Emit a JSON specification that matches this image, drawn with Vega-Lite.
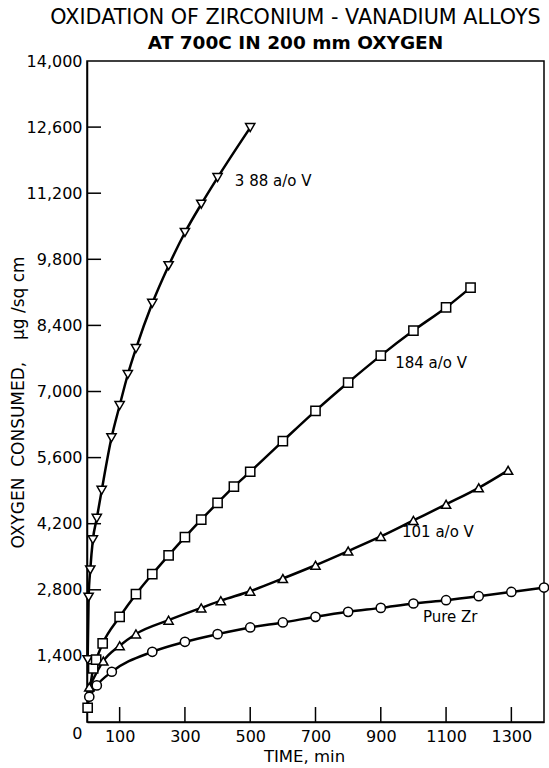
{
  "$schema": "https://vega.github.io/schema/vega-lite/v6.json",
  "autosize": "none",
  "width": 457,
  "height": 661,
  "padding": {"left": 87, "top": 61, "right": 5, "bottom": 46},
  "background": "white",
  "config": {
    "font": "DejaVu Sans",
    "view": {"stroke": "black", "strokeWidth": 1.5},
    "axis": {
      "grid": false,
      "labelColor": "black",
      "titleColor": "black",
      "labelFont": "DejaVu Sans",
      "titleFont": "DejaVu Sans",
      "labelFontSize": 16,
      "titleFontWeight": "normal"
    }
  },
  "title": {
    "text": "OXIDATION OF ZIRCONIUM - VANADIUM  ALLOYS",
    "subtitle": "AT 700C IN 200 mm OXYGEN",
    "font": "DejaVu Sans",
    "fontSize": 20.7,
    "fontWeight": "normal",
    "color": "black",
    "subtitleFont": "DejaVu Sans",
    "subtitleFontSize": 18.5,
    "subtitleFontWeight": "bold",
    "subtitleColor": "black",
    "subtitlePadding": 5,
    "anchor": "middle",
    "dx": -20,
    "offset": 0
  },
  "datasets": {
    "curves": [
      {"series": "388", "time": 2, "oxygen": 1320},
      {"series": "388", "time": 5, "oxygen": 2643},
      {"series": "388", "time": 10, "oxygen": 3220},
      {"series": "388", "time": 18, "oxygen": 3860},
      {"series": "388", "time": 30, "oxygen": 4314},
      {"series": "388", "time": 45, "oxygen": 4906},
      {"series": "388", "time": 75, "oxygen": 6020},
      {"series": "388", "time": 100, "oxygen": 6703},
      {"series": "388", "time": 125, "oxygen": 7360},
      {"series": "388", "time": 150, "oxygen": 7909},
      {"series": "388", "time": 200, "oxygen": 8868},
      {"series": "388", "time": 250, "oxygen": 9664},
      {"series": "388", "time": 300, "oxygen": 10368},
      {"series": "388", "time": 350, "oxygen": 10968},
      {"series": "388", "time": 400, "oxygen": 11531},
      {"series": "388", "time": 500, "oxygen": 12590},
      {"series": "184", "time": 2, "oxygen": 302},
      {"series": "184", "time": 19, "oxygen": 1135},
      {"series": "184", "time": 28, "oxygen": 1320},
      {"series": "184", "time": 48, "oxygen": 1664},
      {"series": "184", "time": 100, "oxygen": 2227},
      {"series": "184", "time": 150, "oxygen": 2707},
      {"series": "184", "time": 200, "oxygen": 3130},
      {"series": "184", "time": 250, "oxygen": 3530},
      {"series": "184", "time": 300, "oxygen": 3915},
      {"series": "184", "time": 350, "oxygen": 4285},
      {"series": "184", "time": 400, "oxygen": 4640},
      {"series": "184", "time": 450, "oxygen": 4985},
      {"series": "184", "time": 500, "oxygen": 5300},
      {"series": "184", "time": 600, "oxygen": 5950},
      {"series": "184", "time": 700, "oxygen": 6590},
      {"series": "184", "time": 800, "oxygen": 7190},
      {"series": "184", "time": 900, "oxygen": 7760},
      {"series": "184", "time": 1000, "oxygen": 8290},
      {"series": "184", "time": 1100, "oxygen": 8780},
      {"series": "184", "time": 1175, "oxygen": 9200},
      {"series": "101", "time": 7, "oxygen": 740},
      {"series": "101", "time": 50, "oxygen": 1290},
      {"series": "101", "time": 100, "oxygen": 1615},
      {"series": "101", "time": 150, "oxygen": 1865},
      {"series": "101", "time": 250, "oxygen": 2157},
      {"series": "101", "time": 350, "oxygen": 2417},
      {"series": "101", "time": 410, "oxygen": 2570},
      {"series": "101", "time": 500, "oxygen": 2770},
      {"series": "101", "time": 600, "oxygen": 3039},
      {"series": "101", "time": 700, "oxygen": 3320},
      {"series": "101", "time": 800, "oxygen": 3620},
      {"series": "101", "time": 900, "oxygen": 3930},
      {"series": "101", "time": 1000, "oxygen": 4270},
      {"series": "101", "time": 1100, "oxygen": 4610},
      {"series": "101", "time": 1200, "oxygen": 4960},
      {"series": "101", "time": 1290, "oxygen": 5330},
      {"series": "Zr", "time": 7, "oxygen": 535},
      {"series": "Zr", "time": 30, "oxygen": 775},
      {"series": "Zr", "time": 76, "oxygen": 1064},
      {"series": "Zr", "time": 200, "oxygen": 1487},
      {"series": "Zr", "time": 300, "oxygen": 1698},
      {"series": "Zr", "time": 400, "oxygen": 1861},
      {"series": "Zr", "time": 500, "oxygen": 2003},
      {"series": "Zr", "time": 600, "oxygen": 2108},
      {"series": "Zr", "time": 700, "oxygen": 2227},
      {"series": "Zr", "time": 800, "oxygen": 2333},
      {"series": "Zr", "time": 900, "oxygen": 2417},
      {"series": "Zr", "time": 1000, "oxygen": 2510},
      {"series": "Zr", "time": 1100, "oxygen": 2580},
      {"series": "Zr", "time": 1200, "oxygen": 2664},
      {"series": "Zr", "time": 1300, "oxygen": 2755},
      {"series": "Zr", "time": 1400, "oxygen": 2848}
    ],
    "labels": [
      {"label": "3 88 a/o V", "time": 453, "oxygen": 11460},
      {"label": "184 a/o V", "time": 944, "oxygen": 7610},
      {"label": "101 a/o V", "time": 965, "oxygen": 4020},
      {"label": "Pure Zr", "time": 1029, "oxygen": 2220}
    ],
    "xticks": [
      {"time": 100}, {"time": 300}, {"time": 500}, {"time": 700},
      {"time": 900}, {"time": 1100}, {"time": 1300}
    ],
    "yticks": [
      {"oxygen": 1400}, {"oxygen": 2800}, {"oxygen": 4200}, {"oxygen": 5600},
      {"oxygen": 7000}, {"oxygen": 8400}, {"oxygen": 9800}, {"oxygen": 11200},
      {"oxygen": 12600}
    ]
  },
  "layer": [
    {
      "data": {"name": "curves"},
      "mark": {"type": "line", "color": "black", "strokeWidth": 2.5, "interpolate": "monotone"},
      "encoding": {
        "x": {
          "field": "time",
          "type": "quantitative",
          "scale": {"domain": [0, 1400], "nice": false, "zero": false},
          "axis": {
            "title": "TIME, min",
            "titleFontSize": 16.5,
            "titlePadding": 4,
            "titleX": 217,
            "values": [100, 300, 500, 700, 900, 1100, 1300],
            "format": "d",
            "domainColor": "black",
            "domainWidth": 1.5,
            "ticks": false,
            "labelPadding": 6
          }
        },
        "y": {
          "field": "oxygen",
          "type": "quantitative",
          "scale": {"domain": [0, 14000], "nice": false},
          "axis": {
            "title": "OXYGEN\u00a0\u00a0CONSUMED,\u00a0\u00a0\u00a0\u00a0\u03bcg\u00a0/sq\u00a0cm",
            "titleFontSize": 17,
            "titleX": -60,
            "titleY": 341,
            "values": [0, 1400, 2800, 4200, 5600, 7000, 8400, 9800, 11200, 12600, 14000],
            "format": ",.0f",
            "domainColor": "black",
            "domainWidth": 1.5,
            "ticks": false,
            "labelPadding": 5,
            "labelOffset": {"condition": {"test": "datum.value === 0", "value": 11}, "value": 0}
          }
        },
        "detail": {"field": "series", "type": "nominal"}
      }
    },
    {
      "data": {"name": "yticks"},
      "mark": {"type": "rule", "color": "black", "strokeWidth": 1.5},
      "encoding": {
        "y": {"field": "oxygen", "type": "quantitative"},
        "x": {"datum": 0, "type": "quantitative"},
        "x2": {"datum": 43}
      }
    },
    {
      "data": {"name": "xticks"},
      "mark": {"type": "rule", "color": "black", "strokeWidth": 1.5},
      "encoding": {
        "x": {"field": "time", "type": "quantitative"},
        "y": {"datum": 0, "type": "quantitative"},
        "y2": {"datum": 317}
      }
    },
    {
      "data": {"name": "curves"},
      "mark": {"type": "point", "filled": true, "fill": "white", "stroke": "black", "strokeWidth": 1.5, "size": 85, "opacity": 1},
      "encoding": {
        "x": {"field": "time", "type": "quantitative"},
        "y": {"field": "oxygen", "type": "quantitative"},
        "shape": {
          "field": "series",
          "type": "nominal",
          "scale": {"domain": ["388", "184", "101", "Zr"], "range": ["triangle-down", "square", "triangle-up", "circle"]},
          "legend": null
        }
      }
    },
    {
      "data": {"name": "labels"},
      "mark": {"type": "text", "align": "left", "baseline": "middle", "font": "DejaVu Sans", "fontSize": 15, "color": "black"},
      "encoding": {
        "x": {"field": "time", "type": "quantitative"},
        "y": {"field": "oxygen", "type": "quantitative"},
        "text": {"field": "label", "type": "nominal"}
      }
    }
  ]
}
